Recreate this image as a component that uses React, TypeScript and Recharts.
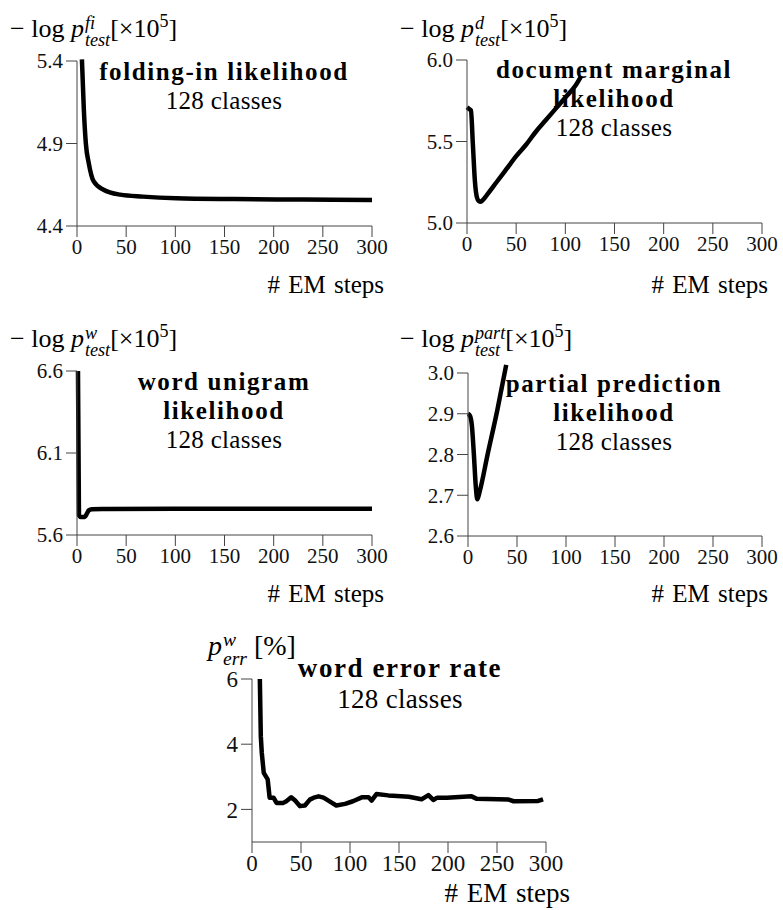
import React from 'react';
import { LineChart, Line, XAxis, YAxis } from 'recharts';

const ROMAN = '"Liberation Serif", Tinos, "Times New Roman"';

// shared x axis
const emTicks = [0, 50, 100, 150, 200, 250, 300];

// folding-in likelihood
const foldSteps = [5, 7, 9, 12, 17, 27, 44, 67, 101, 160, 230, 300];
const foldValues = [5.41, 5.1, 4.9, 4.78, 4.67, 4.62, 4.59, 4.578, 4.568, 4.563, 4.56, 4.558];
const foldTicks = [4.4, 4.9, 5.4];

// document marginal likelihood
const docSteps = [0, 2, 4, 6, 8, 10, 12, 14, 16, 20, 30, 40, 50, 60, 70, 80, 90, 100, 110, 116];
const docValues = [5.71, 5.7, 5.69, 5.48, 5.26, 5.16, 5.135, 5.13, 5.14, 5.17, 5.25, 5.33, 5.41, 5.48, 5.56, 5.63, 5.7, 5.77, 5.84, 5.9];
const docTicks = [5.0, 5.5, 6.0];

// word unigram likelihood
const uniSteps = [1, 2, 4, 8, 10, 12, 15, 30, 100, 200, 300];
const uniValues = [6.6, 5.72, 5.71, 5.71, 5.73, 5.75, 5.757, 5.758, 5.76, 5.76, 5.76];
const uniTicks = [5.6, 6.1, 6.6];

// partial prediction likelihood
const partSteps = [0, 2, 4, 6, 8, 9.5, 12, 20, 30, 39];
const partValues = [2.9, 2.895, 2.87, 2.8, 2.72, 2.69, 2.71, 2.8, 2.91, 3.02];
const partTicks = [2.6, 2.7, 2.8, 2.9, 3.0];

// word error rate
const werSteps = [8, 9, 10, 12, 16, 18, 22, 25, 32, 35, 40, 44, 49, 54, 59, 63, 68, 73, 80, 86, 95, 103, 112, 119, 122, 127, 139, 148, 160, 173, 180, 185, 189, 199, 224, 229, 262, 267, 292, 297];
const werValues = [6.0, 4.24, 3.73, 3.12, 2.92, 2.36, 2.36, 2.2, 2.2, 2.25, 2.37, 2.27, 2.1, 2.12, 2.3, 2.36, 2.4, 2.36, 2.23, 2.12, 2.17, 2.25, 2.37, 2.37, 2.27, 2.47, 2.43, 2.41, 2.39, 2.31, 2.44, 2.29, 2.36, 2.36, 2.4, 2.33, 2.3, 2.25, 2.26, 2.31];
const werTicks = [2, 4, 6];

const zip = (xs: number[], ys: number[]) => xs.map((x, i) => ({ step: x, value: ys[i] }));

type PanelProps = {
  data: { step: number; value: number }[];
  left: number;
  top: number;
  w: number;
  h: number;
  domain: [number, number];
  yTicks: number[];
  fmt?: (v: number) => string;
  fontSize: number;
  curve: 'monotone' | 'linear';
};

const Panel = ({ data, left, top, w, h, domain, yTicks, fmt, fontSize, curve }: PanelProps) => (
  <div style={{ position: 'absolute', left: left - 70, top: top - 20 }}>
    <LineChart width={w + 90} height={h + 60} data={data} margin={{ top: 20, right: 20, left: 0, bottom: 0 }}>
      <XAxis
        dataKey="step"
        type="number"
        domain={[0, 300]}
        ticks={emTicks}
        height={40}
        stroke="#444"
        tickSize={11}
        tickMargin={2}
        tick={{ fontSize, fill: '#111', fontFamily: ROMAN }}
      />
      <YAxis
        type="number"
        domain={domain}
        allowDataOverflow
        ticks={yTicks}
        tickFormatter={fmt}
        width={70}
        stroke="#444"
        tickSize={11}
        tickMargin={3}
        tick={{ fontSize, fill: '#111', fontFamily: ROMAN }}
      />
      <Line
        type={curve}
        dataKey="value"
        stroke="#000"
        strokeWidth={4.5}
        strokeLinejoin="round"
        dot={false}
        isAnimationActive={false}
      />
    </LineChart>
  </div>
);

const Scripts = ({ sup, sub, size }: { sup: string; sub: string; size: number }) => (
  <span
    style={{
      display: 'inline-flex',
      flexDirection: 'column',
      verticalAlign: 'middle',
      fontSize: size * 0.7,
      lineHeight: 0.95,
      fontStyle: 'italic',
      position: 'relative',
      top: size * 0.05,
      marginLeft: 1,
    }}
  >
    <span>{sup}</span>
    <span>{sub}</span>
  </span>
);

const LogTitle = ({ x, y, sup }: { x: number; y: number; sup: string }) => (
  <div style={{ position: 'absolute', left: x, top: y, fontFamily: ROMAN, fontSize: 26, whiteSpace: 'nowrap', lineHeight: 1 }}>
    <span>− log </span>
    <i>p</i>
    <Scripts sup={sup} sub="test" size={26} />
    <span>[×10</span>
    <sup style={{ fontSize: 18 }}>5</sup>
    <span>]</span>
  </div>
);

const Caption = ({ cx, y, lines, size }: { cx: number; y: number; lines: string[]; size: number }) => (
  <div
    style={{
      position: 'absolute',
      left: cx - 200,
      top: y,
      width: 400,
      textAlign: 'center',
      fontFamily: ROMAN,
      fontSize: size,
      lineHeight: 1.15,
    }}
  >
    {lines.map((l) => (
      <div key={l} style={{ fontWeight: 'bold', letterSpacing: 1.6 }}>
        {l}
      </div>
    ))}
    <div style={{ letterSpacing: 0.3 }}>128 classes</div>
  </div>
);

const Steps = ({ right, y, size }: { right: number; y: number; size: number }) => (
  <div
    style={{
      position: 'absolute',
      left: right - 200,
      top: y,
      width: 200,
      textAlign: 'right',
      fontFamily: ROMAN,
      fontSize: size,
      lineHeight: 1,
      whiteSpace: 'nowrap',
      wordSpacing: 2,
    }}
  >
    # EM steps
  </div>
);

const App = () => {
  const one = (v: number) => v.toFixed(1);
  return (
    <div style={{ position: 'absolute', left: 0, top: 0, width: 783, height: 910, background: '#fff', overflow: 'hidden' }}>
      {/* let the curves run a little past the top of the axis, as in the original */}
      <style>{'.recharts-line, .recharts-line [clip-path]{clip-path:none !important}'}</style>

      <Panel data={zip(foldSteps, foldValues)} left={77} top={61} w={295} h={165} domain={[4.4, 5.4]} yTicks={foldTicks} fmt={one} fontSize={21} curve="monotone" />
      <Panel data={zip(docSteps, docValues)} left={467} top={60} w={295} h={163} domain={[5.0, 6.0]} yTicks={docTicks} fmt={one} fontSize={21} curve="monotone" />
      <Panel data={zip(uniSteps, uniValues)} left={77} top={371} w={295} h={164} domain={[5.6, 6.6]} yTicks={uniTicks} fmt={one} fontSize={21} curve="monotone" />
      <Panel data={zip(partSteps, partValues)} left={468} top={373} w={294} h={163} domain={[2.6, 3.0]} yTicks={partTicks} fmt={one} fontSize={21} curve="monotone" />
      <Panel data={zip(werSteps, werValues)} left={252} top={679} w={294} h={163} domain={[1, 6]} yTicks={werTicks} fontSize={23} curve="linear" />

      <LogTitle x={10} y={12} sup="fi" />
      <LogTitle x={400} y={12} sup="d" />
      <LogTitle x={10} y={322} sup="w" />
      <LogTitle x={400} y={322} sup="part" />
      <div style={{ position: 'absolute', left: 208, top: 630, fontFamily: ROMAN, fontSize: 28, whiteSpace: 'nowrap', lineHeight: 1 }}>
        <i>p</i>
        <Scripts sup="w" sub="err" size={28} />
        <span> [%]</span>
      </div>

      <Caption cx={224} y={58} lines={['folding-in likelihood']} size={25} />
      <Caption cx={614} y={56} lines={['document marginal', 'likelihood']} size={25} />
      <Caption cx={224} y={368} lines={['word unigram', 'likelihood']} size={25} />
      <Caption cx={614} y={370} lines={['partial prediction', 'likelihood']} size={25} />
      <Caption cx={400} y={653} lines={['word error rate']} size={27} />

      <Steps right={384} y={272} size={25} />
      <Steps right={768} y={272} size={25} />
      <Steps right={384} y={581} size={25} />
      <Steps right={768} y={581} size={25} />
      <Steps right={570} y={880} size={27} />
    </div>
  );
};

export default App;
